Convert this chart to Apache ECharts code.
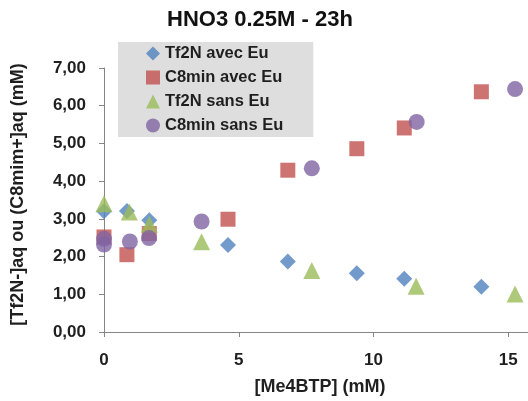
<!DOCTYPE html>
<html>
<head>
<meta charset="utf-8">
<script src="https://cdn.jsdelivr.net/npm/echarts@6/dist/echarts.min.js"></script>
<style>
  html, body { margin: 0; padding: 0; background: #ffffff; }
  #chart { width: 528px; height: 401px; }
</style>
</head>
<body>
<div id="chart"></div>
<script>
// [Me4BTP] concentrations (mM) for the runs with and without Eu
const avecX = [0, 0.85, 1.68, 4.6, 6.82, 9.38, 11.14, 14.0];
const sansX = [0, 0.94, 1.68, 3.62, 7.71, 11.58, 15.25];
const sansCircleX = [0, 0, 0.96, 1.67, 3.62, 7.71, 11.6, 15.25];

// Aqueous concentrations (mM)
const tf2nAvecEu = [3.2, 3.21, 2.96, 2.31, 1.87, 1.56, 1.41, 1.2];
const c8minAvecEu = [2.52, 2.05, 2.61, 2.99, 4.29, 4.86, 5.41, 6.37];
const tf2nSansEu = [3.4, 3.18, 2.86, 2.39, 1.63, 1.21, 1.01];
const c8minSansEu = [2.47, 2.32, 2.4, 2.49, 2.93, 4.34, 5.57, 6.44];

const seriesNames = ['Tf2N avec Eu', 'C8min avec Eu', 'Tf2N sans Eu', 'C8min sans Eu'];
const yTicks = [0, 1, 2, 3, 4, 5, 6, 7];
const xTicks = [0, 5, 10, 15];

const pairs = (xs, ys) => ys.map((y, i) => [xs[i], y]);
const FONT = 'Liberation Sans';
const TXT = '#1f1f1f';
const AXIS = '#868686';

const chart = echarts.init(document.getElementById('chart'), null, { renderer: 'canvas' });
chart.setOption({
  animation: false,
  backgroundColor: '#ffffff',
  title: {
    text: 'HNO3 0.25M - 23h',
    left: 167,
    top: 9,
    padding: 0,
    textStyle: { fontFamily: FONT, fontSize: 22, fontWeight: 'bold', color: '#111111' }
  },
  legend: {
    orient: 'vertical',
    left: 118,
    top: 42,
    backgroundColor: '#dedede',
    padding: [3, 30, 3, 28],
    itemWidth: 14,
    itemHeight: 14,
    itemGap: 7,
    textStyle: { fontFamily: FONT, fontSize: 16.5, fontWeight: 'bold', color: TXT },
    data: [
      { name: seriesNames[0], icon: 'diamond' },
      { name: seriesNames[1], icon: 'rect' },
      { name: seriesNames[2], icon: 'triangle' },
      { name: seriesNames[3], icon: 'circle' }
    ]
  },
  // the x range is cut at the canvas edge, a little short of 16 mM
  grid: { left: 104, right: 0, top: 68, bottom: 68, containLabel: false },
  xAxis: {
    type: 'value',
    min: xTicks[0],
    max: 15.73,
    interval: 5,
    name: '[Me4BTP] (mM)',
    nameLocation: 'middle',
    nameGap: 46,
    nameTextStyle: { fontFamily: FONT, fontSize: 18, fontWeight: 'bold', color: TXT, padding: [0, 0, 0, 8] },
    axisLine: { lineStyle: { color: AXIS, width: 1 } },
    axisTick: { show: true, length: 5, lineStyle: { color: AXIS } },
    axisLabel: { margin: 20, fontFamily: FONT, fontSize: 17, fontWeight: 'bold', color: TXT, showMaxLabel: false },
    splitLine: { show: false }
  },
  yAxis: {
    type: 'value',
    min: yTicks[0],
    max: yTicks[yTicks.length - 1],
    interval: 1,
    name: '[Tf2N-]aq ou (C8mim+]aq (mM)',
    nameLocation: 'middle',
    nameGap: 77,
    nameTextStyle: { fontFamily: FONT, fontSize: 18, fontWeight: 'bold', color: TXT, padding: [0, 0, 0, 11] },
    axisLine: { show: true, lineStyle: { color: AXIS, width: 1 } },
    axisTick: { show: true, length: 5, lineStyle: { color: AXIS } },
    axisLabel: {
      margin: 18,
      fontFamily: FONT, fontSize: 17, fontWeight: 'bold', color: TXT,
      formatter: v => v.toFixed(2).replace('.', ',')
    },
    splitLine: { show: false }
  },
  series: [
    { name: seriesNames[0], type: 'scatter', symbol: 'diamond', symbolSize: 16,
      itemStyle: { color: '#4f81bd' }, data: pairs(avecX, tf2nAvecEu) },
    { name: seriesNames[1], type: 'scatter', symbol: 'rect', symbolSize: 15,
      itemStyle: { color: '#c0504d' }, data: pairs(avecX, c8minAvecEu) },
    { name: seriesNames[2], type: 'scatter', symbol: 'triangle', symbolSize: 17,
      itemStyle: { color: '#9bbb59' }, data: pairs(sansX, tf2nSansEu) },
    { name: seriesNames[3], type: 'scatter', symbol: 'circle', symbolSize: 16,
      itemStyle: { color: '#8064a2' }, data: pairs(sansCircleX, c8minSansEu) }
  ]
});
</script>
</body>
</html>
